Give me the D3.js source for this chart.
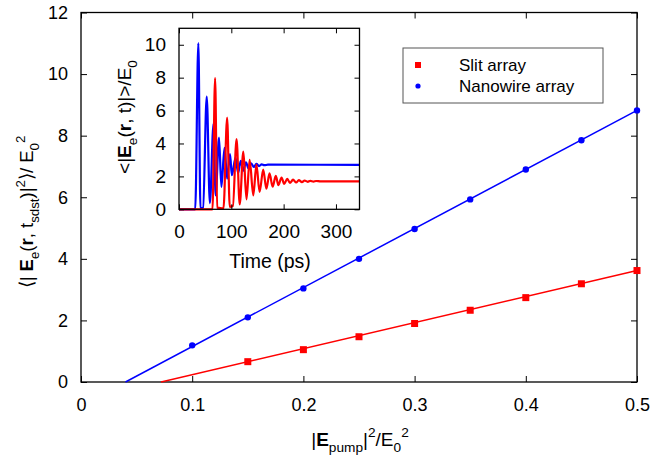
<!DOCTYPE html>
<html>
<head>
<meta charset="utf-8">
<script src="https://cdn.jsdelivr.net/npm/d3@7"></script>
<style>
  body { margin: 0; background: #fff; }
  text { font-family: "Liberation Sans", Arial, sans-serif; fill: #000; }
</style>
</head>
<body>
<svg id="chart" width="655" height="457"></svg>
<script>
// ---- main plot data ----
var slitX = [0.15, 0.2, 0.25, 0.3, 0.35, 0.4, 0.45, 0.5];
var slitY = [0.66, 1.05, 1.47, 1.9, 2.33, 2.74, 3.19, 3.62];
var wireX = [0.1, 0.15, 0.2, 0.25, 0.3, 0.35, 0.4, 0.45, 0.5];
var wireY = [1.19, 2.1, 3.04, 4.0, 4.97, 5.93, 6.9, 7.85, 8.82];
// fitted lines (end points)
var slitFitX = [0.072, 0.5], slitFitY = [0, 3.62];
var wireFitX = [0.04, 0.5], wireFitY = [0, 8.82];

var xTicks = [0, 0.1, 0.2, 0.3, 0.4, 0.5];
var yTicks = [0, 2, 4, 6, 8, 10, 12];

// ---- inset data: time traces (peaks / troughs) ----
var wireT = [0, 31, 37, 41, 46, 53, 59, 66, 70, 76.5, 81, 87, 92, 97.5, 101, 108, 113, 118, 123, 128, 133, 138, 143, 148, 153, 158, 163, 170, 345];
var wireE = [0, 0, 10.1, 0.05, 0.1, 6.85, 0.37, 5.2, 0.85, 4.35, 1.36, 3.74, 1.87, 3.35, 2.07, 3.13, 2.2, 2.95, 2.35, 2.85, 2.48, 2.8, 2.57, 2.76, 2.63, 2.73, 2.68, 2.71, 2.7];
var slitT = [0, 64, 69, 73, 85, 92, 97, 103, 110, 116, 123, 129, 135, 142, 148, 154, 161, 167, 173, 179, 185, 190, 196, 201, 207, 212, 218, 224, 229, 235, 240, 246, 251, 257, 262, 270, 345];
var slitE = [0, 0, 7.97, 0.1, 0.05, 5.57, 0.15, 0.2, 4.27, 0.3, 3.5, 0.6, 3.0, 0.85, 2.72, 1.05, 2.42, 1.25, 2.18, 1.37, 2.03, 1.47, 1.93, 1.55, 1.85, 1.6, 1.8, 1.63, 1.77, 1.65, 1.75, 1.67, 1.73, 1.68, 1.72, 1.7, 1.7];

var insetXTicks = [0, 100, 200, 300];
var insetYTicks = [0, 2, 4, 6, 8, 10];

var RED = "#ff0000", BLUE = "#0000ff";

var svg = d3.select("#chart");

// rich text helper: parts = [{t, b, sub, sup}]
function rich(sel, parts, size) {
    var shift = 0;
    parts.forEach(function (p) {
        var target = p.sub ? size * 0.3 : (p.sup ? -size * 0.45 : 0);
        sel.append("tspan")
            .attr("dy", target - shift)
            .style("font-size", (p.sub || p.sup ? size * 0.72 : size) + "px")
            .style("font-weight", p.b ? "bold" : "normal")
            .text(p.t);
        shift = target;
    });
    return sel;
}

/*========== Main plot ===========*/
var x = d3.scaleLinear().domain([0, 0.5]).range([81, 637]);
var y = d3.scaleLinear().domain([0, 12]).range([382, 12.5]);

var ax = svg.append("g");
ax.append("g")
    .attr("transform", "translate(0," + y(0) + ")")
    .call(d3.axisBottom(x).tickValues(xTicks).tickSize(-6).tickSizeOuter(0).tickPadding(16)
        .tickFormat(function (d) { return d === 0 ? "0" : d3.format(".1f")(d); }));
ax.append("g")
    .attr("transform", "translate(0," + y(12) + ")")
    .call(d3.axisTop(x).tickValues(xTicks).tickSize(-6).tickSizeOuter(0).tickFormat(""));
ax.append("g")
    .attr("transform", "translate(" + x(0) + ",0)")
    .call(d3.axisLeft(y).tickValues(yTicks).tickSize(-6).tickSizeOuter(0).tickPadding(13));
ax.append("g")
    .attr("transform", "translate(" + x(0.5) + ",0)")
    .call(d3.axisRight(y).tickValues(yTicks).tickSize(-6).tickSizeOuter(0).tickFormat(""));
ax.selectAll(".domain").remove();
ax.selectAll(".tick line").attr("stroke", "#000").attr("stroke-width", 1);
ax.selectAll(".tick text").style("font-size", "18px").attr("fill", "#000");

svg.append("rect")
    .attr("x", x(0)).attr("y", y(12))
    .attr("width", x(0.5) - x(0)).attr("height", y(0) - y(12))
    .attr("fill", "none").attr("stroke", "#000").attr("stroke-width", 1.3);

var line = d3.line().x(function (d) { return x(d[0]); }).y(function (d) { return y(d[1]); });

svg.append("path")
    .datum(d3.zip(wireFitX, wireFitY))
    .attr("d", line).attr("fill", "none").attr("stroke", BLUE).attr("stroke-width", 1.5);
svg.append("path")
    .datum(d3.zip(slitFitX, slitFitY))
    .attr("d", line).attr("fill", "none").attr("stroke", RED).attr("stroke-width", 1.5);

svg.append("g").selectAll("circle")
    .data(d3.zip(wireX, wireY)).enter()
    .append("circle")
    .attr("cx", function (d) { return x(d[0]); })
    .attr("cy", function (d) { return y(d[1]); })
    .attr("r", 3.2).attr("fill", BLUE);
svg.append("g").selectAll("rect")
    .data(d3.zip(slitX, slitY)).enter()
    .append("rect")
    .attr("x", function (d) { return x(d[0]) - 3.5; })
    .attr("y", function (d) { return y(d[1]) - 3.5; })
    .attr("width", 7).attr("height", 7).attr("fill", RED);

// axis labels
rich(svg.append("text").attr("x", 360).attr("y", 446).attr("text-anchor", "middle"),
    [{t: "|"}, {t: "E", b: true}, {t: "pump", sub: true}, {t: "|"}, {t: "2", sup: true},
     {t: "/E"}, {t: "0", sub: true}, {t: "2", sup: true}], 19);

rich(svg.append("text").attr("transform", "translate(33,212) rotate(-90)").attr("text-anchor", "middle"),
    [{t: "\u27e8| "}, {t: "E", b: true}, {t: "e", sub: true}, {t: "("}, {t: "r", b: true},
     {t: ", t"}, {t: "sdst", sub: true}, {t: ")|"}, {t: "2", sup: true}, {t: "\u27e9/ E"},
     {t: "0", sub: true}, {t: "2", sup: true}], 18.5);

/*========== Legend ===========*/
var lg = svg.append("g");
lg.append("rect").attr("x", 403).attr("y", 48).attr("width", 200).attr("height", 55)
    .attr("fill", "#fff").attr("stroke", "#555").attr("stroke-width", 1);
lg.append("rect").attr("x", 415).attr("y", 62).attr("width", 6).attr("height", 6).attr("fill", RED);
lg.append("circle").attr("cx", 418).attr("cy", 86).attr("r", 2.6).attr("fill", BLUE);
lg.append("text").attr("x", 459).attr("y", 71).style("font-size", "17px").text("Slit array");
lg.append("text").attr("x", 459).attr("y", 92).style("font-size", "17px").text("Nanowire array");

/*========== Inset ===========*/
var xi = d3.scaleLinear().domain([0, 345]).range([179, 359.5]);
var yi = d3.scaleLinear().domain([0, 11]).range([209.3, 28.3]);

var ins = svg.append("g");
ins.append("rect")
    .attr("x", xi(0)).attr("y", yi(11))
    .attr("width", xi(345) - xi(0)).attr("height", yi(0) - yi(11))
    .attr("fill", "#fff");

var lineI = d3.line().curve(d3.curveMonotoneX)
    .x(function (d) { return xi(d[0]); }).y(function (d) { return yi(d[1]); });
ins.append("path").datum(d3.zip(wireT, wireE))
    .attr("d", lineI).attr("fill", "none").attr("stroke", BLUE).attr("stroke-width", 2.2);
ins.append("path").datum(d3.zip(slitT, slitE))
    .attr("d", lineI).attr("fill", "none").attr("stroke", RED).attr("stroke-width", 2.2);

var iax = ins.append("g");
iax.append("g").attr("transform", "translate(0," + yi(0) + ")")
    .call(d3.axisBottom(xi).tickValues(insetXTicks).tickSize(-5).tickSizeOuter(0).tickPadding(15));
iax.append("g").attr("transform", "translate(0," + yi(11) + ")")
    .call(d3.axisTop(xi).tickValues(insetXTicks).tickSize(-5).tickSizeOuter(0).tickFormat(""));
iax.append("g").attr("transform", "translate(" + xi(0) + ",0)")
    .call(d3.axisLeft(yi).tickValues(insetYTicks).tickSize(-5).tickSizeOuter(0).tickPadding(13));
iax.append("g").attr("transform", "translate(" + xi(345) + ",0)")
    .call(d3.axisRight(yi).tickValues(insetYTicks).tickSize(-5).tickSizeOuter(0).tickFormat(""));
iax.selectAll(".domain").remove();
iax.selectAll(".tick line").attr("stroke", "#000");
iax.selectAll(".tick text").style("font-size", "19px").attr("fill", "#000");

ins.append("rect")
    .attr("x", xi(0)).attr("y", yi(11))
    .attr("width", xi(345) - xi(0)).attr("height", yi(0) - yi(11))
    .attr("fill", "none").attr("stroke", "#000").attr("stroke-width", 1.3);

ins.append("text").attr("x", 270).attr("y", 268).attr("text-anchor", "middle")
    .style("font-size", "19.5px").text("Time (ps)");

rich(ins.append("text").attr("transform", "translate(131,117) rotate(-90)").attr("text-anchor", "middle"),
    [{t: "<|"}, {t: "E", b: true}, {t: "e", sub: true}, {t: "("}, {t: "r", b: true},
     {t: ", t)|>/E"}, {t: "0", sub: true}], 19);
</script>
</body>
</html>
